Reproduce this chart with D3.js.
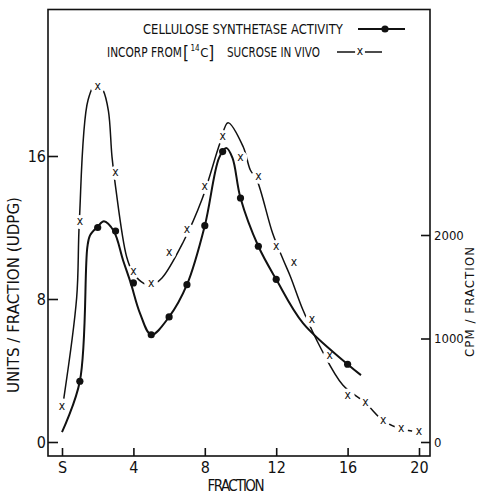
<!DOCTYPE html>
<html>
<head>
<meta charset="utf-8">
<script src="https://cdn.jsdelivr.net/npm/d3@7"></script>
<style>
body { margin: 0; background: #fff; }
svg { display: block; font-family: "Liberation Sans Narrow", "DejaVu Sans Condensed", "DejaVu Sans", sans-serif; font-stretch: condensed; }
</style>
</head>
<body>
<div id="chart"></div>
<script>
// fraction axis (S = supernatant, drawn at 0)
const fractionTicks = [0, 4, 8, 12, 16, 20];
const fractionLabels = ['S', '4', '8', '12', '16', '20'];
const unitTicks = [0, 8, 16];
const cpmTicks = [0, 1000, 2000];

// cellulose synthetase activity, units / fraction (UDPG)
const cellFractions = [1, 2, 3, 4, 5, 6, 7, 8, 9, 10, 11, 12, 16];
const cellUnits = [3.4, 12.0, 11.8, 8.9, 6.0, 7.0, 8.8, 12.1, 16.25, 13.65, 10.95, 9.1, 4.35];
// hand drawn curve through the activity
const cellCurveFractions = [0, 1, 1.42, 1.57, 2, 2.35, 2.9, 3.42, 3.85, 4.37, 5, 6, 7, 8, 8.8, 9.2, 9.55, 10, 11, 12, 13.5, 16, 16.75];
const cellCurveUnits = [0.55, 3.4, 10.9, 11.56, 12.05, 12.35, 11.8, 10.17, 8.9, 7.2, 6.0, 7.0, 8.8, 12.1, 15.9, 16.45, 15.9, 13.65, 10.95, 9.1, 6.65, 4.35, 3.74];

// incorporation from [14C] sucrose in vivo, cpm / fraction
const incFractions = [0, 1, 2, 3, 4, 5, 6, 7, 8, 9, 10, 11, 12, 13, 14, 15, 16, 17, 18, 19, 20];
const incCpm = [340, 2126, 3430, 2600, 1643, 1527, 1826, 2048, 2464, 2947, 2747, 2563, 1884, 1729, 1179, 831, 450, 377, 206, 126, 100];
// hand drawn curve for the incorporation
const incCurveFractions = [0.1, 0.82, 0.97, 1.46, 1.95, 2.3, 2.6, 2.8, 3.0, 3.62, 4.0, 4.6, 5.0, 5.6, 6.8, 7.85, 8.85, 9.3, 10.15, 10.55, 10.9, 11.8, 12.4, 12.8, 13.5, 14.55, 15.73, 17, 18, 19, 20];
const incCurveCpm = [420, 1391, 2126, 3304, 3470, 3400, 3200, 2757, 2467, 1790, 1630, 1530, 1515, 1585, 1935, 2348, 2889, 3085, 2853, 2628, 2540, 2016, 1758, 1597, 1275, 889, 551, 377, 206, 126, 100];

const legendCell = 'CELLULOSE SYNTHETASE ACTIVITY';

const width = 479, height = 494;
const frame = {left: 48, right: 430, top: 9.5, bottom: 456};

const svg = d3.select('#chart').append('svg')
    .attr('width', width).attr('height', height);

const x = d3.scaleLinear().domain([0, 20]).range([62, 419]);
const yUnits = d3.scaleLinear().domain([0, 16]).range([442, 156]);
const yCpm = d3.scaleLinear().domain([0, 2000]).range([442, 235]);

// frame
svg.append('rect')
    .attr('x', frame.left).attr('y', frame.top)
    .attr('width', frame.right - frame.left).attr('height', frame.bottom - frame.top)
    .attr('fill', 'none').attr('stroke', '#111').attr('stroke-width', 1.6);

function styleAxis(g, size){
    g.attr('font-family', null).attr('font-size', null);
    g.select('.domain').remove();
    g.selectAll('.tick line').attr('stroke', '#111').attr('stroke-width', 1.6);
    g.selectAll('.tick text').attr('fill', '#111').attr('font-size', size);
}

// squeeze a text horizontally so it spans w pixels from (px, py)
function fitText(sel, px, py, w){
    const natural = sel.node().getComputedTextLength();
    sel.attr('transform', `translate(${px},${py}) scale(${w / natural},1)`);
}

svg.append('g').attr('transform', `translate(0,${frame.bottom})`)
    .call(d3.axisBottom(x).tickValues(fractionTicks)
        .tickFormat((d, i) => fractionLabels[i]).tickSize(-8).tickPadding(6))
    .call(g => styleAxis(g, 16));

svg.append('g').attr('transform', `translate(${frame.left},0)`)
    .call(d3.axisLeft(yUnits).tickValues(unitTicks).tickSize(-10).tickPadding(2))
    .call(g => styleAxis(g, 16));

svg.append('g').attr('transform', `translate(${frame.right},0)`)
    .call(d3.axisRight(yCpm).tickValues(cpmTicks).tickFormat(d3.format('d'))
        .tickSize(-9).tickPadding(4))
    .call(g => styleAxis(g, 13));

// axis titles
svg.append('text').attr('transform', 'translate(19,295) rotate(-90)')
    .attr('text-anchor', 'middle').attr('font-size', 15).attr('fill', '#111')
    .attr('textLength', 196).attr('lengthAdjust', 'spacingAndGlyphs')
    .text('UNITS / FRACTION (UDPG)');
svg.append('text').attr('transform', 'translate(474,302) rotate(-90)')
    .attr('text-anchor', 'middle').attr('font-size', 13).attr('fill', '#111')
    .attr('textLength', 110).attr('lengthAdjust', 'spacing')
    .text('CPM / FRACTION');
svg.append('text').attr('x', 236).attr('y', 491)
    .attr('text-anchor', 'middle').attr('font-size', 15).attr('fill', '#111')
    .attr('textLength', 57).attr('lengthAdjust', 'spacing')
    .text('FRACTION');

// incorporation curve, broken around the x marks
const incLine = d3.line()
    .x((d, i) => x(incCurveFractions[i]))
    .y(d => yCpm(d))
    .curve(d3.curveCatmullRom.alpha(0.5));
svg.append('path').datum(incCurveCpm)
    .attr('d', incLine).attr('fill', 'none')
    .attr('stroke', '#111').attr('stroke-width', 1.5);

svg.append('g').selectAll('circle').data(incCpm).enter().append('circle')
    .attr('cx', (d, i) => x(incFractions[i])).attr('cy', d => yCpm(d))
    .attr('r', 7).attr('fill', '#fff');

function xMark(sel){
    sel.attr('text-anchor', 'middle').attr('font-size', 12).attr('fill', '#111')
        .text('x');
}
svg.append('g').selectAll('text').data(incCpm).enter().append('text')
    .attr('x', (d, i) => x(incFractions[i])).attr('y', d => yCpm(d) + 3.2)
    .call(xMark);

// cellulose synthetase curve and points
const cellLine = d3.line()
    .x((d, i) => x(cellCurveFractions[i]))
    .y(d => yUnits(d))
    .curve(d3.curveCatmullRom.alpha(0.5));
svg.append('path').datum(cellCurveUnits)
    .attr('d', cellLine).attr('fill', 'none')
    .attr('stroke', '#111').attr('stroke-width', 2);

svg.append('g').selectAll('circle').data(cellUnits).enter().append('circle')
    .attr('cx', (d, i) => x(cellFractions[i])).attr('cy', d => yUnits(d))
    .attr('r', 3.6).attr('fill', '#111');

// legend
const legend = svg.append('g').attr('fill', '#111');
legend.append('text').attr('font-size', 14).text(legendCell)
    .call(fitText, 143, 34, 200);
legend.append('line').attr('x1', 358).attr('x2', 405).attr('y1', 29).attr('y2', 29)
    .attr('stroke', '#111').attr('stroke-width', 1.8);
legend.append('circle').attr('cx', 385).attr('cy', 29).attr('r', 3.6);

legend.append('text').attr('font-size', 14).text('INCORP FROM')
    .call(fitText, 107, 57, 75);
const isotope = legend.append('text').attr('x', 183).attr('y', 59);
isotope.append('tspan').attr('font-size', 17).text('[');
isotope.append('tspan').attr('font-size', 8).attr('dx', 1.5).attr('dy', -8).text('14');
isotope.append('tspan').attr('font-size', 13).attr('dx', 0.5).attr('dy', 6).text('C');
isotope.append('tspan').attr('font-size', 17).attr('dy', 2).text(']');
legend.append('text').attr('font-size', 14).text('SUCROSE IN VIVO')
    .call(fitText, 227, 57, 93);
legend.append('line').attr('x1', 337).attr('x2', 382).attr('y1', 52).attr('y2', 52)
    .attr('stroke', '#111').attr('stroke-width', 1.5);
legend.append('circle').attr('cx', 360).attr('cy', 52).attr('r', 5).attr('fill', '#fff');
legend.append('text').attr('x', 360).attr('y', 55.2).call(xMark);
</script>
</body>
</html>
